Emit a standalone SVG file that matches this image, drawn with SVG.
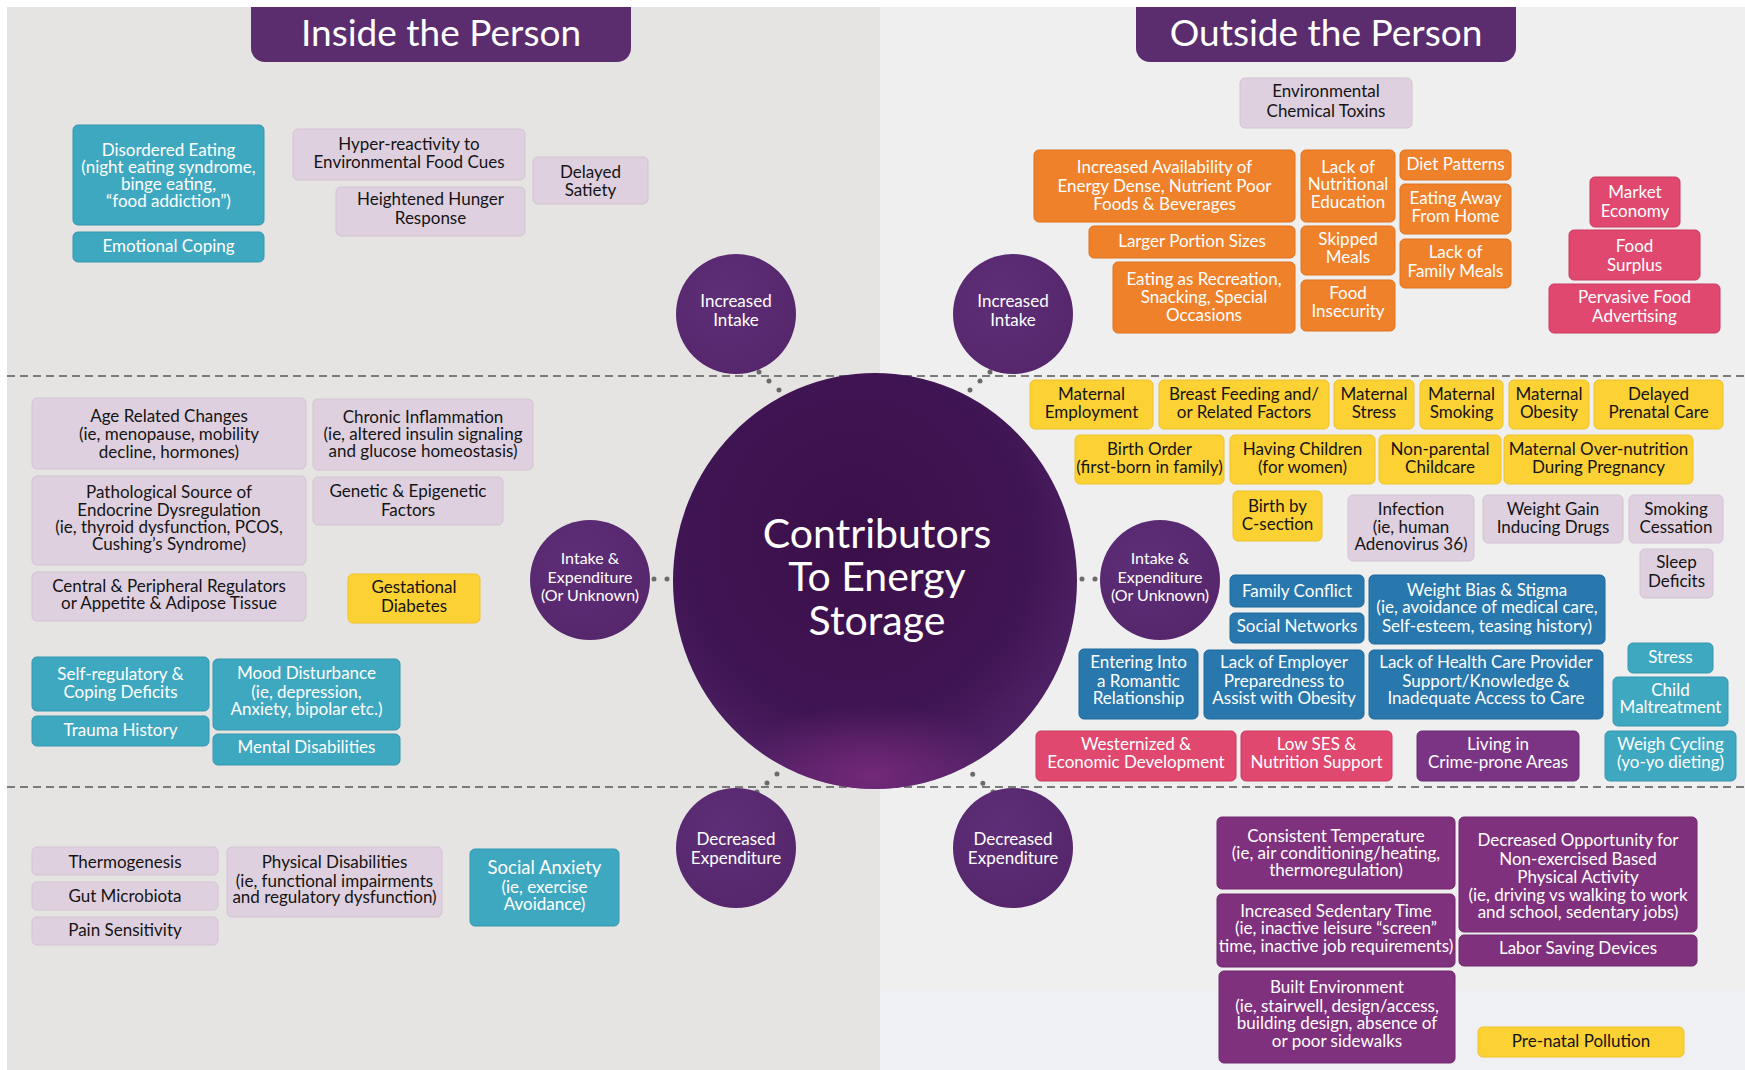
<svg xmlns="http://www.w3.org/2000/svg" width="1745" height="1070" viewBox="0 0 1745 1070">
  <style>
    text { font-family: Lato, "Liberation Sans", sans-serif; font-size: 17px; text-anchor: middle; }
    .tw { fill: #ffffff; }
    .tk { fill: #141414; }
    .title { font-size: 37px; fill: #ffffff; }
    .hub { font-size: 41px; fill: #ffffff; }
    .ctext { font-size: 17px; fill: #ffffff; }
    .csmall { font-size: 16px; fill: #ffffff; }
    rect.box { stroke-width: 1; }
    .teal { fill: #3fa8c1; stroke: #3597ae; }
    .lilac { fill: #dfd0df; stroke: #d3c3d3; }
    .orange { fill: #f0812b; stroke: #df721f; }
    .pink { fill: #e0486f; stroke: #cb3b61; }
    .yellow { fill: #fcd134; stroke: #eec22b; }
    .blue { fill: #2878ae; stroke: #1f699c; }
    .plum { fill: #80317d; stroke: #6f296c; }
    .violet { fill: #7b3484; stroke: #6b2b74; }
    .small-hub { fill: url(#smallHub); }
    .dots { fill: none; stroke: #6a6a6a; stroke-width: 5; stroke-linecap: round; stroke-dasharray: 0 13.45; }
    .dots-h { fill: none; stroke: #6a6a6a; stroke-width: 5; stroke-linecap: round; stroke-dasharray: 0 13; }
    .divider { stroke: #7a7a7a; stroke-width: 2; stroke-dasharray: 8 5; }
  </style>
  <defs>
    <radialGradient id="hubFill" cx="45%" cy="40%" r="62%">
      <stop offset="0" stop-color="#3a0f49"/>
      <stop offset="0.7" stop-color="#401553"/>
      <stop offset="1" stop-color="#4f2266"/>
    </radialGradient>
    <radialGradient id="hubGlow" cx="50%" cy="50%" r="50%">
      <stop offset="0" stop-color="#7a2a7c" stop-opacity="0.85"/>
      <stop offset="1" stop-color="#7a2a7c" stop-opacity="0"/>
    </radialGradient>
    <radialGradient id="smallHub" cx="40%" cy="35%" r="70%">
      <stop offset="0" stop-color="#5e2f78"/>
      <stop offset="1" stop-color="#55266b"/>
    </radialGradient>
    <clipPath id="hubClip">
      <ellipse cx="875" cy="581" rx="202" ry="208"/>
    </clipPath>
  </defs>

  <!-- background panels -->
  <rect x="0" y="0" width="1745" height="1070" fill="#ffffff"/>
  <rect x="7" y="7" width="873" height="1063" fill="#e6e4e3"/>
  <rect x="880" y="7" width="865" height="1063" fill="#efefef"/>
  <rect x="880" y="990" width="865" height="80" fill="#eef0f3"/>

  <!-- section dividers -->
  <line class="divider" x1="7" y1="376" x2="1745" y2="376"/>
  <line class="divider" x1="7" y1="787" x2="1745" y2="787"/>

  <!-- headers -->
  <g id="header-inside">
    <path d="M251,7 H631 V48 A14,14 0 0 1 617,62 H265 A14,14 0 0 1 251,48 Z" fill="#5b2d6e"/>
    <text class="title" x="441" y="46">Inside the Person</text>
  </g>
  <g id="header-outside">
    <path d="M1136,7 H1516 V48 A14,14 0 0 1 1502,62 H1150 A14,14 0 0 1 1136,48 Z" fill="#5b2d6e"/>
    <text class="title" x="1326" y="46">Outside the Person</text>
  </g>

  <!-- connectors (dotted links between the pathway circles and the hub) -->
  <g id="connectors">
    <path class="dots" d="M759,372 L789,399"/>
    <path class="dots" d="M990,372 L960,399"/>
    <path class="dots" d="M757,792 L787,765"/>
    <path class="dots" d="M993,792 L962,765"/>
    <path class="dots-h" d="M654,579 L672,579"/>
    <path class="dots-h" d="M1095,579 L1077,579"/>
  </g>

  <!-- central hub -->
  <g id="hub">
    <ellipse cx="875" cy="581" rx="202" ry="208" fill="url(#hubFill)"/>
    <g clip-path="url(#hubClip)">
      <ellipse cx="870" cy="775" rx="140" ry="70" fill="url(#hubGlow)"/>
    </g>
    <text class="hub" x="877" y="548">Contributors</text>
    <text class="hub" x="877" y="591">To Energy</text>
    <text class="hub" x="877" y="635">Storage</text>
  </g>

  <!-- pathway circles -->
  <g id="increased-intake-inside">
    <circle class="small-hub" cx="736" cy="314" r="60"/>
    <text class="ctext" x="736" y="307">Increased</text>
    <text class="ctext" x="736" y="326">Intake</text>
  </g>
  <g id="increased-intake-outside">
    <circle class="small-hub" cx="1013" cy="314" r="60"/>
    <text class="ctext" x="1013" y="307">Increased</text>
    <text class="ctext" x="1013" y="326">Intake</text>
  </g>
  <g id="intake-expenditure-inside">
    <circle class="small-hub" cx="590" cy="580" r="60"/>
    <text class="csmall" x="590" y="564">Intake &amp;</text>
    <text class="csmall" x="590" y="583">Expenditure</text>
    <text class="csmall" x="590" y="601">(Or Unknown)</text>
  </g>
  <g id="intake-expenditure-outside">
    <circle class="small-hub" cx="1160" cy="580" r="60"/>
    <text class="csmall" x="1160" y="564">Intake &amp;</text>
    <text class="csmall" x="1160" y="583">Expenditure</text>
    <text class="csmall" x="1160" y="601">(Or Unknown)</text>
  </g>
  <g id="decreased-expenditure-inside">
    <circle class="small-hub" cx="736" cy="848" r="60"/>
    <text class="ctext" x="736" y="845">Decreased</text>
    <text class="ctext" x="736" y="864">Expenditure</text>
  </g>
  <g id="decreased-expenditure-outside">
    <circle class="small-hub" cx="1013" cy="848" r="60"/>
    <text class="ctext" x="1013" y="845">Decreased</text>
    <text class="ctext" x="1013" y="864">Expenditure</text>
  </g>

  <!-- inside the person: intake -->
  <g id="disordered-eating">
    <rect class="box teal" x="73" y="125" width="191" height="100" rx="5"/>
    <text class="tw"><tspan x="168.5" y="156">Disordered Eating</tspan><tspan x="168.5" y="173">(night eating syndrome,</tspan><tspan x="168.5" y="190">binge eating,</tspan><tspan x="168.5" y="207">“food addiction”)</tspan></text>
  </g>
  <g id="emotional-coping">
    <rect class="box teal" x="73" y="232" width="191" height="30" rx="5"/>
    <text class="tw" x="168.5" y="252">Emotional Coping</text>
  </g>
  <g id="hyper-reactivity">
    <rect class="box lilac" x="293" y="129" width="232" height="51" rx="5"/>
    <text class="tk"><tspan x="409" y="150">Hyper-reactivity to</tspan><tspan x="409" y="168">Environmental Food Cues</tspan></text>
  </g>
  <g id="heightened-hunger">
    <rect class="box lilac" x="336" y="187" width="189" height="49" rx="5"/>
    <text class="tk"><tspan x="430.5" y="205">Heightened Hunger</tspan><tspan x="430.5" y="224">Response</tspan></text>
  </g>
  <g id="delayed-satiety">
    <rect class="box lilac" x="533" y="157" width="115" height="47" rx="5"/>
    <text class="tk"><tspan x="590.5" y="178">Delayed</tspan><tspan x="590.5" y="196">Satiety</tspan></text>
  </g>

  <!-- outside the person: intake -->
  <g id="environmental-toxins">
    <rect class="box lilac" x="1240" y="78" width="172" height="50" rx="5"/>
    <text class="tk"><tspan x="1326" y="97">Environmental</tspan><tspan x="1326" y="117">Chemical Toxins</tspan></text>
  </g>
  <g id="energy-dense-foods">
    <rect class="box orange" x="1034" y="150" width="261" height="72" rx="5"/>
    <text class="tw"><tspan x="1164.5" y="173">Increased Availability of</tspan><tspan x="1164.5" y="192">Energy Dense, Nutrient Poor</tspan><tspan x="1164.5" y="210">Foods &amp; Beverages</tspan></text>
  </g>
  <g id="nutritional-education">
    <rect class="box orange" x="1301" y="150" width="94" height="72" rx="5"/>
    <text class="tw"><tspan x="1348" y="173">Lack of</tspan><tspan x="1348" y="190">Nutritional</tspan><tspan x="1348" y="208">Education</tspan></text>
  </g>
  <g id="diet-patterns">
    <rect class="box orange" x="1400" y="150" width="111" height="30" rx="5"/>
    <text class="tw" x="1455.5" y="170">Diet Patterns</text>
  </g>
  <g id="eating-away">
    <rect class="box orange" x="1400" y="184" width="111" height="50" rx="5"/>
    <text class="tw"><tspan x="1455.5" y="204">Eating Away</tspan><tspan x="1455.5" y="222">From Home</tspan></text>
  </g>
  <g id="portion-sizes">
    <rect class="box orange" x="1089" y="226" width="206" height="32" rx="5"/>
    <text class="tw" x="1192" y="247">Larger Portion Sizes</text>
  </g>
  <g id="skipped-meals">
    <rect class="box orange" x="1301" y="226" width="94" height="49" rx="5"/>
    <text class="tw"><tspan x="1348" y="245">Skipped</tspan><tspan x="1348" y="263">Meals</tspan></text>
  </g>
  <g id="family-meals">
    <rect class="box orange" x="1400" y="239" width="111" height="49" rx="5"/>
    <text class="tw"><tspan x="1455.5" y="258">Lack of</tspan><tspan x="1455.5" y="277">Family Meals</tspan></text>
  </g>
  <g id="eating-recreation">
    <rect class="box orange" x="1113" y="262" width="182" height="71" rx="5"/>
    <text class="tw"><tspan x="1204" y="285">Eating as Recreation,</tspan><tspan x="1204" y="303">Snacking, Special</tspan><tspan x="1204" y="321">Occasions</tspan></text>
  </g>
  <g id="food-insecurity">
    <rect class="box orange" x="1301" y="280" width="94" height="51" rx="5"/>
    <text class="tw"><tspan x="1348" y="299">Food</tspan><tspan x="1348" y="317">Insecurity</tspan></text>
  </g>
  <g id="market-economy">
    <rect class="box pink" x="1590" y="177" width="90" height="50" rx="5"/>
    <text class="tw"><tspan x="1635" y="198">Market</tspan><tspan x="1635" y="217">Economy</tspan></text>
  </g>
  <g id="food-surplus">
    <rect class="box pink" x="1569" y="230" width="131" height="50" rx="5"/>
    <text class="tw"><tspan x="1634.5" y="252">Food</tspan><tspan x="1634.5" y="271">Surplus</tspan></text>
  </g>
  <g id="food-advertising">
    <rect class="box pink" x="1549" y="284" width="171" height="49" rx="5"/>
    <text class="tw"><tspan x="1634.5" y="303">Pervasive Food</tspan><tspan x="1634.5" y="322">Advertising</tspan></text>
  </g>

  <!-- inside the person: intake & expenditure -->
  <g id="age-related">
    <rect class="box lilac" x="32" y="398" width="274" height="71" rx="5"/>
    <text class="tk"><tspan x="169" y="422">Age Related Changes</tspan><tspan x="169" y="440">(ie, menopause, mobility</tspan><tspan x="169" y="458">decline, hormones)</tspan></text>
  </g>
  <g id="chronic-inflammation">
    <rect class="box lilac" x="313" y="399" width="220" height="71" rx="5"/>
    <text class="tk"><tspan x="423" y="423">Chronic Inflammation</tspan><tspan x="423" y="440">(ie, altered insulin signaling</tspan><tspan x="423" y="457">and glucose homeostasis)</tspan></text>
  </g>
  <g id="endocrine-dysregulation">
    <rect class="box lilac" x="32" y="476" width="274" height="89" rx="5"/>
    <text class="tk"><tspan x="169" y="498">Pathological Source of</tspan><tspan x="169" y="516">Endocrine Dysregulation</tspan><tspan x="169" y="533">(ie, thyroid dysfunction, PCOS,</tspan><tspan x="169" y="550">Cushing’s Syndrome)</tspan></text>
  </g>
  <g id="genetic-epigenetic">
    <rect class="box lilac" x="313" y="477" width="190" height="48" rx="5"/>
    <text class="tk"><tspan x="408" y="497">Genetic &amp; Epigenetic</tspan><tspan x="408" y="516">Factors</tspan></text>
  </g>
  <g id="appetite-regulators">
    <rect class="box lilac" x="32" y="572" width="274" height="49" rx="5"/>
    <text class="tk"><tspan x="169" y="592">Central &amp; Peripheral Regulators</tspan><tspan x="169" y="609">or Appetite &amp; Adipose Tissue</tspan></text>
  </g>
  <g id="gestational-diabetes">
    <rect class="box yellow" x="348" y="574" width="132" height="49" rx="5"/>
    <text class="tk"><tspan x="414" y="593">Gestational</tspan><tspan x="414" y="612">Diabetes</tspan></text>
  </g>
  <g id="self-regulatory">
    <rect class="box teal" x="32" y="657" width="177" height="54" rx="5"/>
    <text class="tw"><tspan x="120.5" y="680">Self-regulatory &amp;</tspan><tspan x="120.5" y="698">Coping Deficits</tspan></text>
  </g>
  <g id="trauma-history">
    <rect class="box teal" x="32" y="716" width="177" height="30" rx="5"/>
    <text class="tw" x="120.5" y="736">Trauma History</text>
  </g>
  <g id="mood-disturbance">
    <rect class="box teal" x="213" y="659" width="187" height="71" rx="5"/>
    <text class="tw"><tspan x="306.5" y="679">Mood Disturbance</tspan><tspan x="306.5" y="698">(ie, depression,</tspan><tspan x="306.5" y="715">Anxiety, bipolar etc.)</tspan></text>
  </g>
  <g id="mental-disabilities">
    <rect class="box teal" x="213" y="734" width="187" height="31" rx="5"/>
    <text class="tw" x="306.5" y="753">Mental Disabilities</text>
  </g>

  <!-- outside the person: intake & expenditure -->
  <g id="maternal-employment">
    <rect class="box yellow" x="1030" y="380" width="123" height="49" rx="5"/>
    <text class="tk"><tspan x="1091.5" y="400">Maternal</tspan><tspan x="1091.5" y="418">Employment</tspan></text>
  </g>
  <g id="breast-feeding">
    <rect class="box yellow" x="1159" y="380" width="170" height="49" rx="5"/>
    <text class="tk"><tspan x="1244" y="400">Breast Feeding and/</tspan><tspan x="1244" y="418">or Related Factors</tspan></text>
  </g>
  <g id="maternal-stress">
    <rect class="box yellow" x="1334" y="380" width="80" height="49" rx="5"/>
    <text class="tk"><tspan x="1374" y="400">Maternal</tspan><tspan x="1374" y="418">Stress</tspan></text>
  </g>
  <g id="maternal-smoking">
    <rect class="box yellow" x="1420" y="380" width="83" height="49" rx="5"/>
    <text class="tk"><tspan x="1461.5" y="400">Maternal</tspan><tspan x="1461.5" y="418">Smoking</tspan></text>
  </g>
  <g id="maternal-obesity">
    <rect class="box yellow" x="1509" y="380" width="80" height="49" rx="5"/>
    <text class="tk"><tspan x="1549" y="400">Maternal</tspan><tspan x="1549" y="418">Obesity</tspan></text>
  </g>
  <g id="delayed-prenatal-care">
    <rect class="box yellow" x="1594" y="380" width="129" height="49" rx="5"/>
    <text class="tk"><tspan x="1658.5" y="400">Delayed</tspan><tspan x="1658.5" y="418">Prenatal Care</tspan></text>
  </g>
  <g id="birth-order">
    <rect class="box yellow" x="1075" y="435" width="149" height="49" rx="5"/>
    <text class="tk"><tspan x="1149.5" y="455">Birth Order</tspan><tspan x="1149.5" y="473">(first-born in family)</tspan></text>
  </g>
  <g id="having-children">
    <rect class="box yellow" x="1230" y="435" width="145" height="49" rx="5"/>
    <text class="tk"><tspan x="1302.5" y="455">Having Children</tspan><tspan x="1302.5" y="473">(for women)</tspan></text>
  </g>
  <g id="non-parental-childcare">
    <rect class="box yellow" x="1379" y="435" width="122" height="49" rx="5"/>
    <text class="tk"><tspan x="1440" y="455">Non-parental</tspan><tspan x="1440" y="473">Childcare</tspan></text>
  </g>
  <g id="maternal-over-nutrition">
    <rect class="box yellow" x="1504" y="435" width="189" height="49" rx="5"/>
    <text class="tk"><tspan x="1598.5" y="455">Maternal Over-nutrition</tspan><tspan x="1598.5" y="473">During Pregnancy</tspan></text>
  </g>
  <g id="c-section">
    <rect class="box yellow" x="1233" y="491" width="89" height="50" rx="5"/>
    <text class="tk"><tspan x="1277.5" y="512">Birth by</tspan><tspan x="1277.5" y="530">C-section</tspan></text>
  </g>
  <g id="infection">
    <rect class="box lilac" x="1348" y="495" width="126" height="66" rx="5"/>
    <text class="tk"><tspan x="1411" y="515">Infection</tspan><tspan x="1411" y="533">(ie, human</tspan><tspan x="1411" y="550">Adenovirus 36)</tspan></text>
  </g>
  <g id="weight-gain-drugs">
    <rect class="box lilac" x="1483" y="495" width="140" height="48" rx="5"/>
    <text class="tk"><tspan x="1553" y="515">Weight Gain</tspan><tspan x="1553" y="533">Inducing Drugs</tspan></text>
  </g>
  <g id="smoking-cessation">
    <rect class="box lilac" x="1629" y="495" width="94" height="48" rx="5"/>
    <text class="tk"><tspan x="1676" y="515">Smoking</tspan><tspan x="1676" y="533">Cessation</tspan></text>
  </g>
  <g id="sleep-deficits">
    <rect class="box lilac" x="1640" y="549" width="73" height="49" rx="5"/>
    <text class="tk"><tspan x="1676.5" y="568">Sleep</tspan><tspan x="1676.5" y="587">Deficits</tspan></text>
  </g>
  <g id="family-conflict">
    <rect class="box blue" x="1230" y="575" width="134" height="32" rx="5"/>
    <text class="tw" x="1297" y="597">Family Conflict</text>
  </g>
  <g id="social-networks">
    <rect class="box blue" x="1230" y="613" width="134" height="30" rx="5"/>
    <text class="tw" x="1297" y="632">Social Networks</text>
  </g>
  <g id="weight-bias">
    <rect class="box blue" x="1369" y="575" width="236" height="69" rx="5"/>
    <text class="tw"><tspan x="1487" y="596">Weight Bias &amp; Stigma</tspan><tspan x="1487" y="613">(ie, avoidance of medical care,</tspan><tspan x="1487" y="632">Self-esteem, teasing history)</tspan></text>
  </g>
  <g id="romantic-relationship">
    <rect class="box blue" x="1079" y="649" width="119" height="70" rx="5"/>
    <text class="tw"><tspan x="1138.5" y="668">Entering Into</tspan><tspan x="1138.5" y="687">a Romantic</tspan><tspan x="1138.5" y="704">Relationship</tspan></text>
  </g>
  <g id="employer-preparedness">
    <rect class="box blue" x="1204" y="650" width="160" height="69" rx="5"/>
    <text class="tw"><tspan x="1284" y="668">Lack of Employer</tspan><tspan x="1284" y="687">Preparedness to</tspan><tspan x="1284" y="704">Assist with Obesity</tspan></text>
  </g>
  <g id="health-care-support">
    <rect class="box blue" x="1369" y="650" width="234" height="69" rx="5"/>
    <text class="tw"><tspan x="1486" y="668">Lack of Health Care Provider</tspan><tspan x="1486" y="687">Support/Knowledge &amp;</tspan><tspan x="1486" y="704">Inadequate Access to Care</tspan></text>
  </g>
  <g id="stress">
    <rect class="box teal" x="1628" y="643" width="85" height="30" rx="5"/>
    <text class="tw" x="1670.5" y="663">Stress</text>
  </g>
  <g id="child-maltreatment">
    <rect class="box teal" x="1613" y="677" width="115" height="49" rx="5"/>
    <text class="tw"><tspan x="1670.5" y="696">Child</tspan><tspan x="1670.5" y="713">Maltreatment</tspan></text>
  </g>
  <g id="weigh-cycling">
    <rect class="box teal" x="1605" y="731" width="131" height="50" rx="5"/>
    <text class="tw"><tspan x="1670.5" y="750">Weigh Cycling</tspan><tspan x="1670.5" y="768">(yo-yo dieting)</tspan></text>
  </g>
  <g id="westernized">
    <rect class="box pink" x="1036" y="731" width="200" height="50" rx="5"/>
    <text class="tw"><tspan x="1136" y="750">Westernized &amp;</tspan><tspan x="1136" y="768">Economic Development</tspan></text>
  </g>
  <g id="low-ses">
    <rect class="box pink" x="1241" y="731" width="151" height="50" rx="5"/>
    <text class="tw"><tspan x="1316.5" y="750">Low SES &amp;</tspan><tspan x="1316.5" y="768">Nutrition Support</tspan></text>
  </g>
  <g id="crime-prone-areas">
    <rect class="box violet" x="1417" y="731" width="162" height="50" rx="5"/>
    <text class="tw"><tspan x="1498" y="750">Living in</tspan><tspan x="1498" y="768">Crime-prone Areas</tspan></text>
  </g>

  <!-- inside the person: expenditure -->
  <g id="thermogenesis">
    <rect class="box lilac" x="32" y="847" width="186" height="28" rx="5"/>
    <text class="tk" x="125" y="868">Thermogenesis</text>
  </g>
  <g id="gut-microbiota">
    <rect class="box lilac" x="32" y="882" width="186" height="28" rx="5"/>
    <text class="tk" x="125" y="902">Gut Microbiota</text>
  </g>
  <g id="pain-sensitivity">
    <rect class="box lilac" x="32" y="917" width="186" height="28" rx="5"/>
    <text class="tk" x="125" y="936">Pain Sensitivity</text>
  </g>
  <g id="physical-disabilities">
    <rect class="box lilac" x="227" y="847" width="215" height="70" rx="5"/>
    <text class="tk"><tspan x="334.5" y="868">Physical Disabilities</tspan><tspan x="334.5" y="887">(ie, functional impairments</tspan><tspan x="334.5" y="903">and regulatory dysfunction)</tspan></text>
  </g>
  <g id="social-anxiety">
    <rect class="box teal" x="470" y="849" width="149" height="77" rx="5"/>
    <text class="tw"><tspan x="544.5" y="874" style="font-size:18.5px">Social Anxiety</tspan><tspan x="544.5" y="893">(ie, exercise</tspan><tspan x="544.5" y="910">Avoidance)</tspan></text>
  </g>

  <!-- outside the person: expenditure -->
  <g id="consistent-temperature">
    <rect class="box plum" x="1217" y="817" width="238" height="72" rx="5"/>
    <text class="tw"><tspan x="1336" y="842">Consistent Temperature</tspan><tspan x="1336" y="859">(ie, air conditioning/heating,</tspan><tspan x="1336" y="876">thermoregulation)</tspan></text>
  </g>
  <g id="sedentary-time">
    <rect class="box plum" x="1217" y="894" width="238" height="73" rx="5"/>
    <text class="tw"><tspan x="1336" y="917">Increased Sedentary Time</tspan><tspan x="1336" y="934">(ie, inactive leisure “screen”</tspan><tspan x="1336" y="952">time, inactive job requirements)</tspan></text>
  </g>
  <g id="built-environment">
    <rect class="box plum" x="1219" y="971" width="236" height="92" rx="5"/>
    <text class="tw"><tspan x="1337" y="993">Built Environment</tspan><tspan x="1337" y="1012">(ie, stairwell, design/access,</tspan><tspan x="1337" y="1029">building design, absence of</tspan><tspan x="1337" y="1047">or poor sidewalks</tspan></text>
  </g>
  <g id="non-exercise-activity">
    <rect class="box plum" x="1459" y="817" width="238" height="115" rx="5"/>
    <text class="tw"><tspan x="1578" y="846">Decreased Opportunity for</tspan><tspan x="1578" y="865">Non-exercised Based</tspan><tspan x="1578" y="883">Physical Activity</tspan><tspan x="1578" y="901">(ie, driving vs walking to work</tspan><tspan x="1578" y="918">and school, sedentary jobs)</tspan></text>
  </g>
  <g id="labor-saving-devices">
    <rect class="box plum" x="1459" y="935" width="238" height="31" rx="5"/>
    <text class="tw" x="1578" y="954">Labor Saving Devices</text>
  </g>
  <g id="pre-natal-pollution">
    <rect class="box yellow" x="1478" y="1027" width="206" height="30" rx="5"/>
    <text class="tk" x="1581" y="1047">Pre-natal Pollution</text>
  </g>
</svg>
